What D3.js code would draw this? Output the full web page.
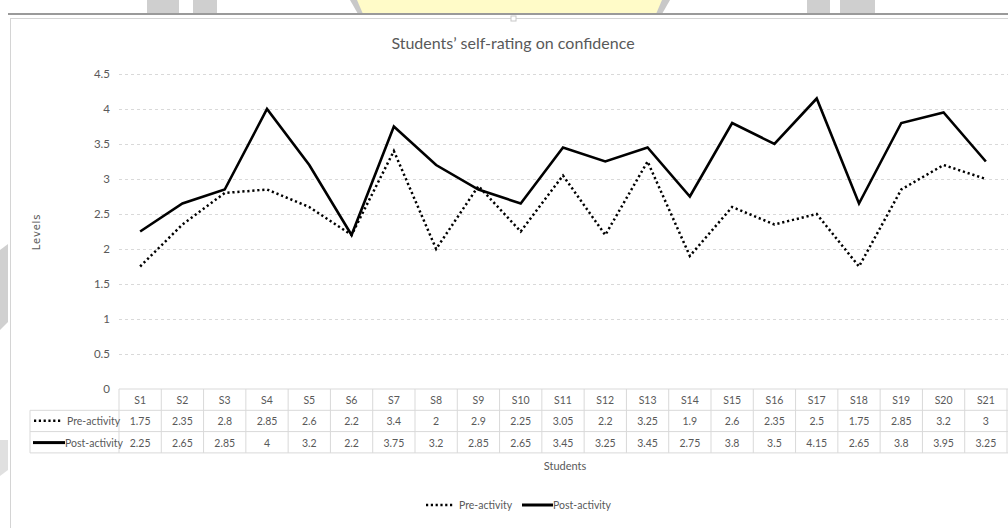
<!DOCTYPE html>
<html>
<head>
<meta charset="utf-8">
<script src="https://cdn.jsdelivr.net/npm/d3@7"></script>
<style>
  body { margin: 0; background: #fff; }
  svg { display: block; font-family: Lato, "Open Sans", sans-serif; }
</style>
</head>
<body>
<svg id="chart" width="1008" height="528"></svg>
<script>
// chart data
var students = ["S1","S2","S3","S4","S5","S6","S7","S8","S9","S10","S11","S12","S13","S14","S15","S16","S17","S18","S19","S20","S21"]
var preActivity = [1.75, 2.35, 2.8, 2.85, 2.6, 2.2, 3.4, 2, 2.9, 2.25, 3.05, 2.2, 3.25, 1.9, 2.6, 2.35, 2.5, 1.75, 2.85, 3.2, 3]
var postActivity = [2.25, 2.65, 2.85, 4, 3.2, 2.2, 3.75, 3.2, 2.85, 2.65, 3.45, 3.25, 3.45, 2.75, 3.8, 3.5, 4.15, 2.65, 3.8, 3.95, 3.25]
var yTicks = [0, 0.5, 1, 1.5, 2, 2.5, 3, 3.5, 4, 4.5]
var seriesNames = ["Pre-activity", "Post-activity"]

var svg = d3.select("#chart")
var textCol = "#595959", gridCol = "#d9d9d9"

// watermark bits behind the chart frame
svg.append("rect").attr("x", 147).attr("y", 0).attr("width", 32).attr("height", 14).attr("fill", "#cfcfcf")
svg.append("rect").attr("x", 193).attr("y", 0).attr("width", 24).attr("height", 14).attr("fill", "#cfcfcf")
svg.append("path").attr("d", "M350,0 L670,0 L662,14 L358,14 Z").attr("fill", "#c8c8c8")
svg.append("path").attr("d", "M357,0 L662,0 L656,14 L363,14 Z").attr("fill", "#fffbc8")
svg.append("rect").attr("x", 807).attr("y", 0).attr("width", 23).attr("height", 14).attr("fill", "#cfcfcf")
svg.append("rect").attr("x", 840).attr("y", 0).attr("width", 35).attr("height", 14).attr("fill", "#cfcfcf")
svg.append("path").attr("d", "M0,250 L8,244 L8,322 L0,330 Z").attr("fill", "#d0d0d0")
svg.append("path").attr("d", "M0,440 L8,440 L8,470 L0,476 Z").attr("fill", "#e0e0e0")

// frame
svg.append("line").attr("x1", 8).attr("x2", 1008).attr("y1", 14).attr("y2", 14)
	.attr("stroke", "#9a9a9a").attr("stroke-width", 2)
svg.append("rect").attr("x", 10.5).attr("y", 18.5).attr("width", 1010).attr("height", 520)
	.attr("fill", "#fff").attr("stroke", "#d4d4d4")
svg.append("rect").attr("x", 511).attr("y", 16).attr("width", 5).attr("height", 5).attr("fill", "#fff").attr("stroke", "#c8c8c8")

// scales
var plotLeft = 119, plotRight = 1007, plotTop = 74, plotBottom = 389
var x = d3.scaleBand().domain(students).range([plotLeft, plotRight]).padding(0)
var y = d3.scaleLinear().domain([0, 4.5]).range([plotBottom, plotTop])

// title
svg.append("text").attr("x", 513).attr("y", 49).attr("text-anchor", "middle")
	.attr("font-size", 16).attr("fill", textCol).text("Students\u2019 self-rating on confidence")

// y axis with grid
var yAxis = svg.append("g").attr("transform", "translate(" + plotLeft + ",0)")
	.call(d3.axisLeft(y).tickValues(yTicks).tickFormat(d3.format("")).tickSize(-(plotRight - plotLeft + 5)).tickPadding(9))
yAxis.select(".domain").remove()
yAxis.selectAll(".tick line").attr("stroke", gridCol).attr("stroke-dasharray", "3,3")
	.filter(function(d) { return d === 0 }).remove()
yAxis.selectAll(".tick text").attr("fill", textCol).attr("font-size", 11.5)
	.attr("font-family", "Lato, sans-serif")

svg.append("text").attr("transform", "translate(40,232) rotate(-90)").attr("text-anchor", "middle")
	.attr("font-size", 10).attr("letter-spacing", 0.8).attr("fill", textCol)
	.attr("font-family", "DejaVu Sans, sans-serif").text("Levels")

// data table under the plot
var rowH = 21.3
var tableLeft = 30
var tbl = svg.append("g")
var rowsY = [plotBottom, plotBottom + rowH, plotBottom + 2 * rowH, plotBottom + 3 * rowH]
// horizontal lines
tbl.append("line").attr("x1", plotLeft).attr("x2", plotRight + 5).attr("y1", rowsY[0]).attr("y2", rowsY[0]).attr("stroke", gridCol)
rowsY.slice(1).forEach(function(ry) {
	tbl.append("line").attr("x1", tableLeft).attr("x2", plotRight + 5).attr("y1", ry).attr("y2", ry).attr("stroke", gridCol)
})
// vertical lines
tbl.append("line").attr("x1", tableLeft).attr("x2", tableLeft).attr("y1", rowsY[1]).attr("y2", rowsY[3]).attr("stroke", gridCol)
students.forEach(function(s) {
	tbl.append("line").attr("x1", x(s)).attr("x2", x(s)).attr("y1", rowsY[0]).attr("y2", rowsY[3]).attr("stroke", gridCol)
})
tbl.append("line").attr("x1", plotRight).attr("x2", plotRight).attr("y1", rowsY[0]).attr("y2", rowsY[3]).attr("stroke", gridCol)

var cellFont = 10.5
tbl.selectAll(".hdr").data(students).enter().append("text")
	.attr("x", function(d) { return x(d) + x.bandwidth() / 2 })
	.attr("y", rowsY[0] + 15).attr("text-anchor", "middle")
	.attr("font-size", cellFont).attr("fill", textCol).text(function(d) { return d })

;[preActivity, postActivity].forEach(function(vals, r) {
	tbl.selectAll(".row" + r).data(vals).enter().append("text")
		.attr("x", function(d, i) { return x(students[i]) + x.bandwidth() / 2 })
		.attr("y", rowsY[r + 1] + 15).attr("text-anchor", "middle")
		.attr("font-size", cellFont).attr("fill", textCol).text(function(d) { return d })
})

// legend keys inside table
tbl.append("line").attr("x1", 34).attr("x2", 62).attr("y1", rowsY[1] + 10.5).attr("y2", rowsY[1] + 10.5)
	.attr("stroke", "#000").attr("stroke-width", 2.5).attr("stroke-dasharray", "2.2,2.6")
tbl.append("text").attr("x", 67).attr("y", rowsY[1] + 15).attr("font-size", cellFont).attr("fill", textCol).text(seriesNames[0])
tbl.append("line").attr("x1", 33).attr("x2", 65).attr("y1", rowsY[2] + 11).attr("y2", rowsY[2] + 11)
	.attr("stroke", "#000").attr("stroke-width", 3)
tbl.append("text").attr("x", 65).attr("y", rowsY[2] + 15).attr("font-size", cellFont).attr("fill", textCol).text(seriesNames[1])

// x axis title
svg.append("text").attr("x", (plotLeft + plotRight) / 2 + 2).attr("y", 470).attr("text-anchor", "middle")
	.attr("font-size", 11).attr("fill", textCol).text("Students")

// lines
var line = d3.line()
	.x(function(d, i) { return x(students[i]) + x.bandwidth() / 2 })
	.y(function(d) { return y(d) })

svg.append("path").datum(preActivity).attr("d", line).attr("fill", "none")
	.attr("stroke", "#000").attr("stroke-width", 2.5).attr("stroke-dasharray", "2.2,2.8")
svg.append("path").datum(postActivity).attr("d", line).attr("fill", "none")
	.attr("stroke", "#000").attr("stroke-width", 2.6).attr("stroke-linejoin", "miter")

// bottom legend
var lg = svg.append("g").attr("transform", "translate(0,505)")
lg.append("line").attr("x1", 426).attr("x2", 454).attr("y1", 0).attr("y2", 0)
	.attr("stroke", "#000").attr("stroke-width", 2.5).attr("stroke-dasharray", "2.2,2.6")
lg.append("text").attr("x", 459).attr("y", 4).attr("font-size", cellFont).attr("fill", textCol).text(seriesNames[0])
lg.append("line").attr("x1", 522).attr("x2", 553).attr("y1", 0).attr("y2", 0)
	.attr("stroke", "#000").attr("stroke-width", 3)
lg.append("text").attr("x", 553).attr("y", 4).attr("font-size", cellFont).attr("fill", textCol).text(seriesNames[1])
</script>
</body>
</html>
